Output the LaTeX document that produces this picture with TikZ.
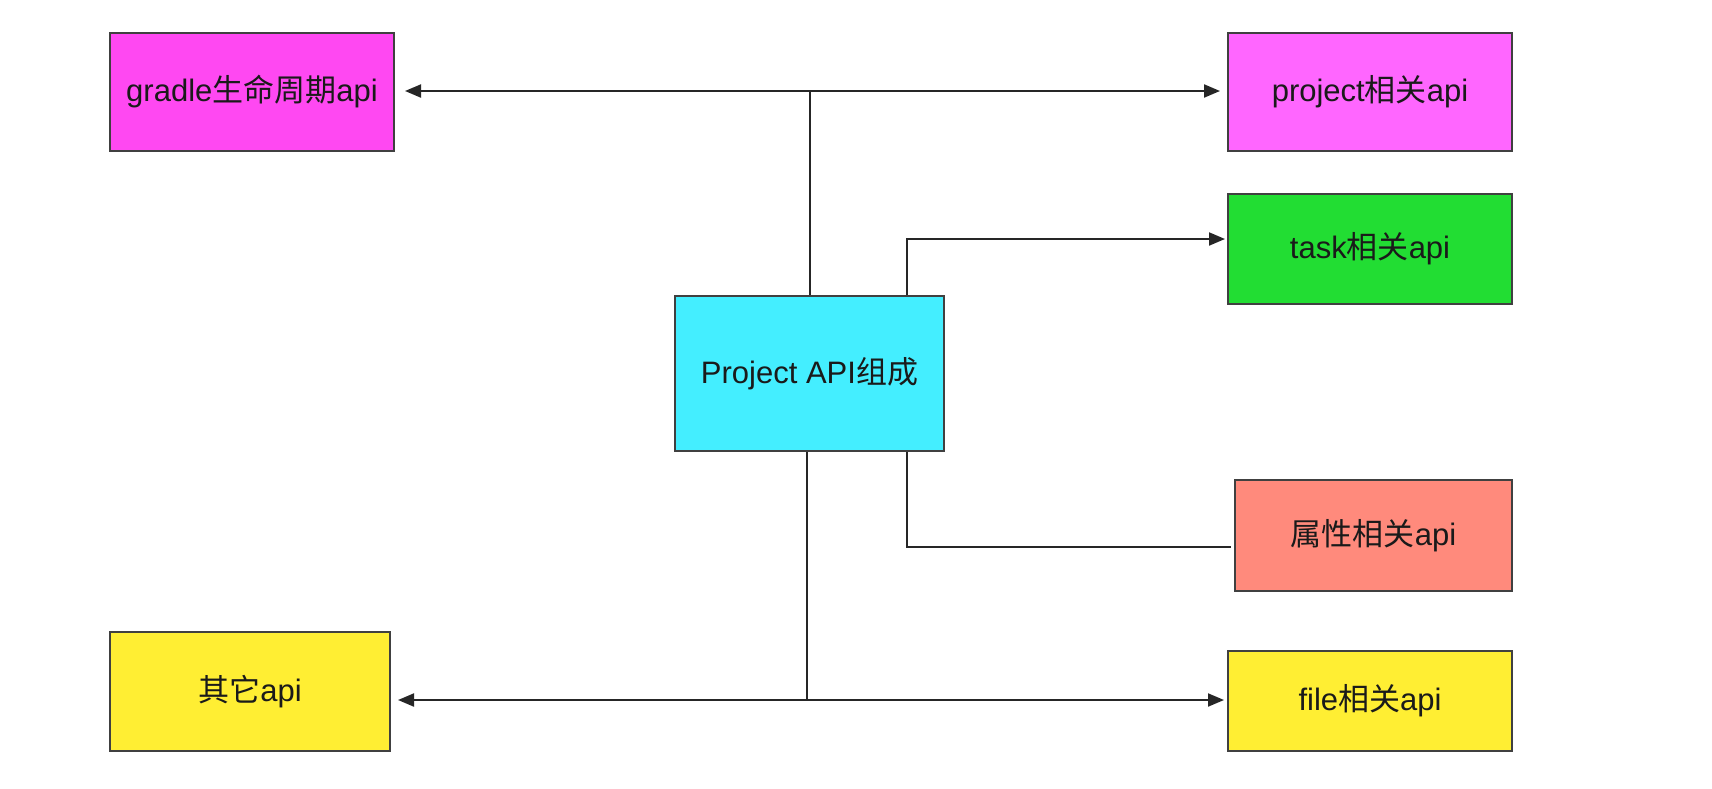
\documentclass[tikz,border=0pt]{standalone}
\usepackage{fontspec}
\setmainfont{Liberation Sans}
\newfontfamily\cjk{Noto Sans CJK SC}
\usetikzlibrary{arrows.meta,calc}
\definecolor{cMagA}{HTML}{FF48F2}
\definecolor{cMagB}{HTML}{FF66FF}
\definecolor{cGreen}{HTML}{22DD33}
\definecolor{cCyan}{HTML}{44EEFF}
\definecolor{cSalmon}{HTML}{FF8A7C}
\definecolor{cYellow}{HTML}{FFEE33}
\definecolor{cText}{HTML}{1A1A1A}
\tikzset{
  apibox/.style={draw=black!75, line width=2pt, rectangle, inner sep=0pt,
    text=cText, font=\fontsize{31}{34}\selectfont},
  conn/.style={draw=black!85, line width=2pt},
  arr/.style={conn, -{Triangle[length=16pt,width=13pt]}}
}
\begin{document}
\begin{tikzpicture}[x=1pt,y=-1pt]
\useasboundingbox[fill=white] (0,0) rectangle (1712,788);

\node[apibox, fill=cMagA, minimum width=284pt, minimum height=118pt] (g) at (252,92) {gradle{\cjk 生命周期}api};
\node[apibox, fill=cMagB, minimum width=284pt, minimum height=118pt] (p) at (1370,92) {project{\cjk 相关}api};
\node[apibox, fill=cGreen, minimum width=284pt, minimum height=110pt] (t) at (1370,249) {task{\cjk 相关}api};
\node[apibox, fill=cCyan, minimum width=269pt, minimum height=155pt] (c) at (809.5,373.5) {Project API{\cjk 组成}};
\node[apibox, fill=cSalmon, minimum width=277pt, minimum height=111pt] (a) at (1373.5,535.5) {{\cjk 属性相关}api};
\node[apibox, fill=cYellow, minimum width=280pt, minimum height=119pt] (o) at (250,691.5) {{\cjk 其它}api};
\node[apibox, fill=cYellow, minimum width=284pt, minimum height=100pt] (f) at (1370,701) {file{\cjk 相关}api};

% junctions
\coordinate (jt) at (810,91);
\coordinate (jb) at (807,700);
\coordinate (jr1) at (907,239);
\coordinate (jr2) at (907,547);
\coordinate (tt) at (1225,239);
\coordinate (at) at (1231,547);
\coordinate (ot) at (398,700);
\coordinate (gt) at (405,91);
\coordinate (pt) at (1220,91);
\coordinate (ft) at (1224,700);

% top connector
\draw[conn] (jt |- c.north) -- (jt);
\draw[arr] (jt) -- (gt);
\draw[arr] (jt) -- (pt);
% task
\draw[arr] (jr1 |- c.north) -- (jr1) -- (tt);
% properties
\draw[conn] (jr2 |- c.south) -- (jr2) -- (at);
% bottom connector
\draw[conn] (jb |- c.south) -- (jb);
\draw[arr] (jb) -- (ot);
\draw[arr] (jb) -- (ft);
\end{tikzpicture}
\end{document}
